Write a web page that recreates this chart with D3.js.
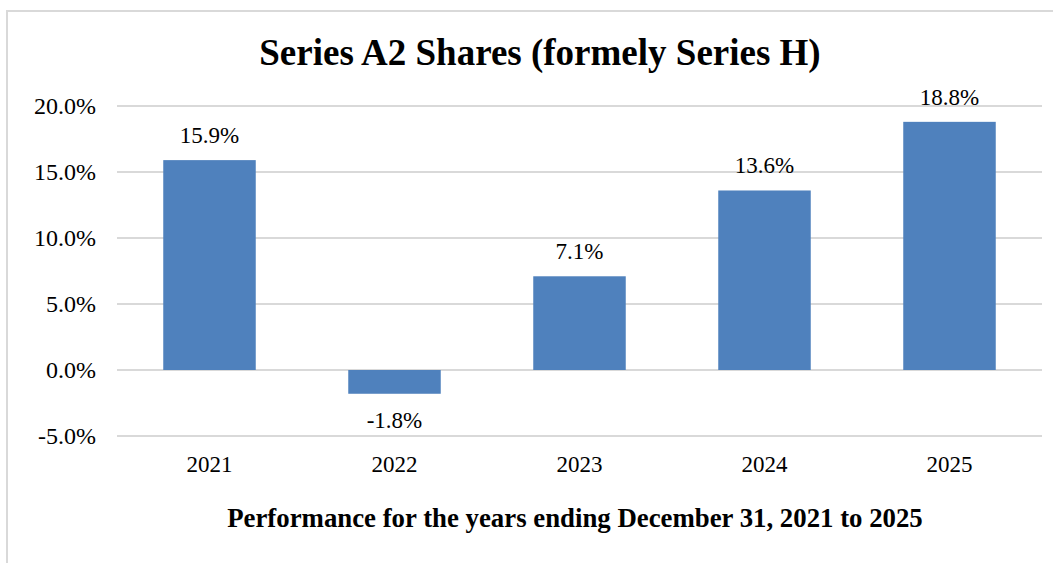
<!DOCTYPE html>
<html>
<head>
<meta charset="utf-8">
<script src="https://cdn.jsdelivr.net/npm/d3@7"></script>
<style>
  body { margin: 0; background: #fff; }
</style>
</head>
<body>
<svg id="drawing_region"></svg>
<script>
const years = ["2021", "2022", "2023", "2024", "2025"];
const returns = [15.9, -1.8, 7.1, 13.6, 18.8];
const yTicks = [-5, 0, 5, 10, 15, 20];
const title = "Series A2 Shares (formely Series H)";
const xTitle = "Performance for the years ending December 31, 2021 to 2025";

const font = "'Liberation Serif', Tinos, 'Times New Roman', 'DejaVu Serif', serif";
const pct = d => d3.format('.1f')(d).replace('\u2212', '-') + '%';

const width = 1053, height = 563;
const margin = {top: 106, right: 11, bottom: 127, left: 117};
const inner_width = width - margin.left - margin.right;
const inner_height = height - margin.top - margin.bottom;

const svg = d3.select('#drawing_region')
    .attr('width', width)
    .attr('height', height)
    .style('font-family', font);

// chart area frame (only top and left edges are visible in the crop)
svg.append('path')
    .attr('d', `M7,${height} V11 H${width}`)
    .attr('fill', 'none')
    .attr('stroke', '#d9d9d9')
    .attr('stroke-width', 2);

const chart = svg.append('g')
    .attr('transform', `translate(${margin.left}, ${margin.top})`);

const xscale = d3.scaleBand()
    .domain(years)
    .range([0, inner_width])
    .paddingInner(0.5)
    .paddingOuter(0.25);

const yscale = d3.scaleLinear()
    .domain([-5, 20])
    .range([inner_height, 0]);

// gridlines
chart.selectAll('.grid')
    .data(yTicks)
    .enter()
    .append('line')
    .attr('class', 'grid')
    .attr('x1', 0)
    .attr('x2', inner_width)
    .attr('y1', d => yscale(d))
    .attr('y2', d => yscale(d))
    .attr('stroke', '#d9d9d9')
    .attr('stroke-width', 2);

// y axis labels
const yaxis = d3.axisLeft(yscale)
    .tickValues(yTicks)
    .tickFormat(pct)
    .tickSize(0)
    .tickPadding(21);
const yaxis_group = chart.append('g').call(yaxis)
    .attr('font-family', null);
yaxis_group.select('.domain').remove();
yaxis_group.selectAll('text')
    .attr('font-size', 24)
    .attr('dy', '0.33em')
    .style('font-family', font)
    .attr('fill', '#000');

// x axis labels, below the -5% line
const xaxis = d3.axisBottom(xscale).tickSize(0).tickPadding(20);
const xaxis_group = chart.append('g')
    .attr('transform', `translate(0, ${inner_height})`)
    .call(xaxis)
    .attr('font-family', null);
xaxis_group.select('.domain').remove();
xaxis_group.selectAll('text')
    .attr('font-size', 23)
    .style('font-family', font)
    .attr('fill', '#000');

// bars
chart.selectAll('.bar')
    .data(returns)
    .enter()
    .append('rect')
    .attr('class', 'bar')
    .attr('x', (d, i) => xscale(years[i]))
    .attr('width', xscale.bandwidth())
    .attr('y', d => yscale(Math.max(0, d)))
    .attr('height', d => Math.abs(yscale(d) - yscale(0)))
    .attr('fill', '#4f81bd');

// value labels
chart.selectAll('.label')
    .data(returns)
    .enter()
    .append('text')
    .attr('class', 'label')
    .attr('x', (d, i) => xscale(years[i]) + xscale.bandwidth() / 2)
    .attr('y', d => d >= 0 ? yscale(d) - 17 : yscale(d) + 34)
    .attr('text-anchor', 'middle')
    .attr('font-size', 23)
    .style('font-family', font)
    .text(pct);

// titles
svg.append('text')
    .attr('x', 540)
    .attr('y', 65)
    .attr('text-anchor', 'middle')
    .attr('font-size', 37)
    .attr('font-weight', 'bold')
    .style('font-family', font)
    .text(title);

svg.append('text')
    .attr('x', 575)
    .attr('y', 527)
    .attr('text-anchor', 'middle')
    .attr('font-size', 26.8)
    .attr('font-weight', 'bold')
    .style('font-family', font)
    .text(xTitle);
</script>
</body>
</html>
